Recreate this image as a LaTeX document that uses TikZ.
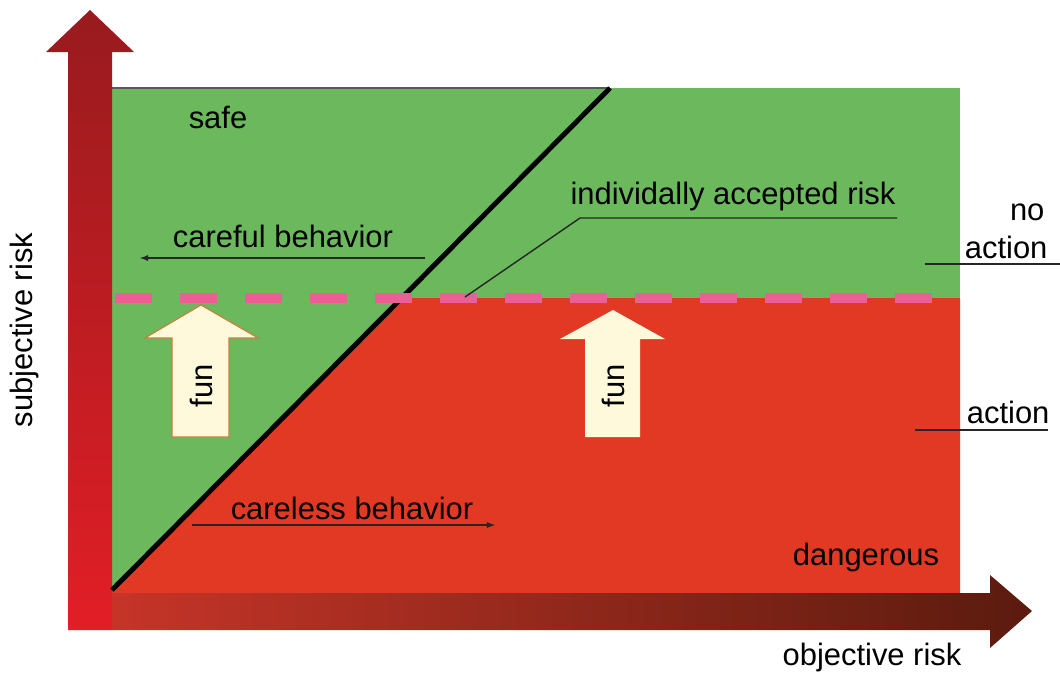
\documentclass[tikz,border=0pt]{standalone}
\usepackage{fontspec}
\setmainfont{Liberation Sans}
\usepackage{tikz}
\usetikzlibrary{arrows, positioning}
\tikzset{>=stealth}

\definecolor{safegreen}{RGB}{108,184,92}
\definecolor{dangerred}{RGB}{226,57,37}
\definecolor{limitpink}{RGB}{232,96,150}
\definecolor{funcream}{RGB}{253,249,218}
\definecolor{funedge}{RGB}{205,125,60}
\definecolor{axtop}{RGB}{152,27,30}
\definecolor{axbottom}{RGB}{226,30,38}
\definecolor{axleft}{RGB}{198,52,40}
\definecolor{axright}{RGB}{90,27,14}

\tikzset{
  lbl/.style={font=\fontsize{22}{26}\selectfont, inner sep=0pt},
  funtext/.style={font=\fontsize{22}{26}\selectfont, rotate=90, inner sep=0pt},
  pointer/.style={line width=1pt, black!85},
}

\begin{document}
\begin{tikzpicture}[x=0.025cm, y=-0.025cm, thick]
    \useasboundingbox[fill=white] (0,0) rectangle (1060,673);

    % areas
    \fill[safegreen] (112,88) rectangle (960,298);
    \fill[safegreen] (112,298) rectangle (402,593);
    \fill[dangerred] (112,590) -- (402,298) -- (960,298) -- (960,593) -- (112,593) -- cycle;
    \draw[line width=1pt, black!65] (112,88) -- (610,88);

    % axes
    \shade[left color=axleft, right color=axright]
        (112,593) -- (990,593) -- (990,575) -- (1032,611) -- (990,648) -- (990,630) -- (112,630) -- cycle;
    \shade[top color=axtop, bottom color=axbottom]
        (68,630) -- (68,52) -- (46,52) -- (90,10) -- (134,52) -- (112,52) -- (112,630) -- cycle;

    % border between careful and careless
    \coordinate (B0) at (112,590);
    \coordinate (B1) at (610,88);
    \draw[line width=3.5pt, black] (B0) -- (B1);

    % accepted risk level
    \coordinate (R0) at (115,298);
    \coordinate (R1) at (940,298);
    \draw[limitpink, line width=6.5pt, dash pattern=on 26.3pt off 19.9pt] (R0) -- (R1);

    % fun arrows
    \draw[fill=funcream, draw=funedge, line width=0.8pt]
        (172,437) -- (172,338) -- (145,338) -- (201,305) -- (258,338) -- (229,338) -- (229,437) -- cycle;
    \node[funtext] (fun1) at (201,386) {fun};
    \fill[funcream]
        (585,437) -- (585,339) -- (560,339) -- (613,310) -- (665,339) -- (640,339) -- (640,437) -- cycle;
    \node[funtext] (fun2) at (613,386) {fun};

    % labels
    \node[lbl] (safe) at (218,117) {safe};
    \node[lbl] (careful) at (283,236) {careful behavior};
    \coordinate (C0) at (425,258);
    \coordinate (C1) at (140,258);
    \draw[pointer, ->, >=latex] (C0) -- (C1);

    \node[lbl] (accepted) at (733,196) {individally accepted risk};
    \coordinate (A0) at (897,218);
    \coordinate (A1) at (580,218);
    \coordinate (A2) at (465,297);
    \draw[pointer] (A0) -- (A1) -- (A2);

    \node[lbl, anchor=east] (no) at (1045,212) {no};
    \node[lbl, anchor=east] (noaction) at (1048,247) {action};
    \coordinate (N0) at (925,264);
    \coordinate (N1) at (1060,264);
    \draw[pointer] (N0) -- (N1);

    \node[lbl, anchor=east] (action) at (1050,412) {action};
    \coordinate (T0) at (915,430);
    \coordinate (T1) at (1048,430);
    \draw[pointer] (T0) -- (T1);

    \node[lbl] (careless) at (352,508) {careless behavior};
    \coordinate (L0) at (192,525);
    \coordinate (L1) at (495,525);
    \draw[pointer, ->, >=latex] (L0) -- (L1);

    \node[lbl] (dangerous) at (866,557) {dangerous};
    \node[lbl] (objective) at (872,657) {objective risk};
    \node[lbl, rotate=90] (subjective) at (25,330) {subjective risk};
\end{tikzpicture}
\end{document}
